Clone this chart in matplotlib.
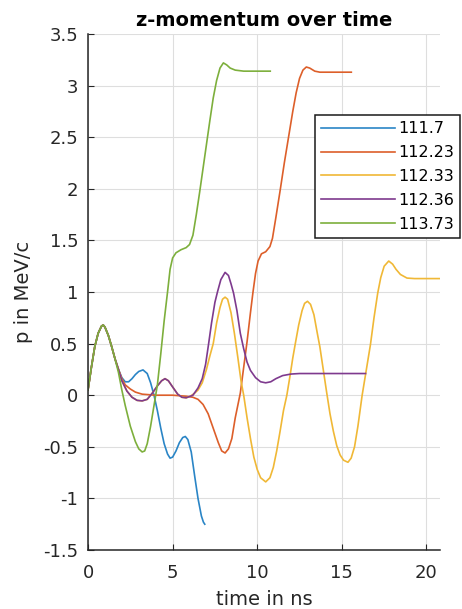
import numpy as np
import matplotlib
matplotlib.use("Agg")
import matplotlib.pyplot as plt

plt.rcParams['font.family'] = ['DejaVu Sans']

# time (ns) and z-momentum (MeV/c) per run
t_1117 = [0, 0.2, 0.4, 0.6, 0.8, 0.9, 1.0, 1.2, 1.4, 1.6, 1.8, 2.0, 2.2, 2.4, 2.6, 2.8, 3.0,
          3.25, 3.5, 3.7, 3.9, 4.1, 4.3, 4.5, 4.7, 4.85, 5.0, 5.2, 5.4, 5.6, 5.75, 5.9,
          6.1, 6.3, 6.5, 6.7, 6.82, 6.9]
p_1117 = [0.05, 0.27, 0.47, 0.6, 0.67, 0.68, 0.66, 0.58, 0.47, 0.35, 0.25, 0.17, 0.13, 0.13,
          0.16, 0.2, 0.23, 0.245, 0.21, 0.12, 0.0, -0.15, -0.32, -0.47, -0.57, -0.61, -0.6,
          -0.54, -0.46, -0.41, -0.4, -0.43, -0.55, -0.78, -1.0, -1.17, -1.23, -1.25]

t_11223 = [0, 0.2, 0.4, 0.6, 0.8, 0.9, 1.0, 1.2, 1.4, 1.6, 1.8, 2.0, 2.2, 2.5, 2.8, 3.2, 4.0,
           5.0, 5.8, 6.2, 6.5, 6.8, 7.1, 7.4, 7.7, 7.9, 8.1, 8.3, 8.5, 8.7, 8.85, 9.0, 9.2,
           9.4, 9.6, 9.75, 9.9, 10.05, 10.25, 10.5, 10.75, 10.9, 11.1, 11.35, 11.6, 11.85,
           12.1, 12.3, 12.5, 12.7, 12.9, 13.1, 13.4, 13.7, 15.56]
p_11223 = [0.05, 0.27, 0.47, 0.6, 0.67, 0.68, 0.66, 0.58, 0.47, 0.35, 0.25, 0.16, 0.1, 0.06,
           0.03, 0.01, 0.0, 0.0, -0.01, -0.02, -0.04, -0.09, -0.18, -0.32, -0.46, -0.54,
           -0.56, -0.52, -0.42, -0.22, -0.1, 0.02, 0.27, 0.52, 0.8, 1.0, 1.18, 1.3, 1.37,
           1.39, 1.44, 1.52, 1.72, 1.98, 2.25, 2.5, 2.75, 2.93, 3.07, 3.15, 3.18, 3.17,
           3.14, 3.13, 3.13]

t_11233 = [0, 0.2, 0.4, 0.6, 0.8, 0.9, 1.0, 1.2, 1.4, 1.6, 1.8, 2.0, 2.3, 2.6, 2.9, 3.2, 3.5,
           3.8, 4.1, 4.35, 4.55, 4.75, 5.0, 5.3, 5.55, 5.8, 6.05, 6.3, 6.5, 6.75, 7.0, 7.2,
           7.4, 7.6, 7.8, 7.95, 8.1, 8.25, 8.45, 8.65, 8.85, 9.05, 9.2, 9.4, 9.6, 9.8, 10.0,
           10.2, 10.5, 10.75, 10.95, 11.15, 11.35, 11.55, 11.75, 11.95, 12.1, 12.25, 12.45,
           12.65, 12.8, 12.97, 13.15, 13.35, 13.55, 13.7, 13.9, 14.1, 14.3, 14.5, 14.7, 14.9,
           15.1, 15.36, 15.55, 15.75, 15.95, 16.2, 16.45, 16.69, 16.9, 17.12, 17.3, 17.5,
           17.77, 18.0, 18.2, 18.46, 18.85, 19.3, 20.8]
p_11233 = [0.05, 0.27, 0.47, 0.6, 0.67, 0.68, 0.66, 0.58, 0.47, 0.35, 0.25, 0.14, 0.04, -0.02,
           -0.05, -0.055, -0.04, 0.02, 0.09, 0.14, 0.16, 0.14, 0.08, 0.01, -0.02, -0.025,
           -0.01, 0.02, 0.05, 0.12, 0.25, 0.38, 0.5, 0.7, 0.85, 0.93, 0.95, 0.93, 0.8, 0.6,
           0.37, 0.13, 0.0, -0.22, -0.42, -0.6, -0.72, -0.8, -0.84, -0.8, -0.7, -0.54, -0.35,
           -0.15, 0.0, 0.2, 0.36, 0.5, 0.68, 0.82, 0.89, 0.91, 0.88, 0.78, 0.6, 0.47, 0.25,
           0.03, -0.18, -0.35, -0.49, -0.58, -0.63, -0.65, -0.61, -0.5, -0.3, 0.0, 0.25, 0.49,
           0.75, 0.99, 1.14, 1.25, 1.3, 1.27, 1.22, 1.17, 1.135, 1.13, 1.13]

t_11236 = [0, 0.2, 0.4, 0.6, 0.8, 0.9, 1.0, 1.2, 1.4, 1.6, 1.8, 2.0, 2.3, 2.6, 2.9, 3.2, 3.5,
           3.8, 4.1, 4.35, 4.55, 4.75, 5.0, 5.3, 5.55, 5.8, 6.05, 6.2, 6.5, 6.75, 6.95, 7.12,
           7.3, 7.5, 7.65, 7.85, 8.1, 8.3, 8.45, 8.6, 8.8, 9.0, 9.2, 9.4, 9.6, 9.9, 10.2, 10.5,
           10.8, 11.1, 11.5, 12.0, 12.5, 16.4]
p_11236 = [0.05, 0.27, 0.47, 0.6, 0.67, 0.68, 0.66, 0.58, 0.47, 0.35, 0.25, 0.14, 0.04, -0.02,
           -0.05, -0.055, -0.04, 0.02, 0.09, 0.14, 0.16, 0.14, 0.08, 0.01, -0.02, -0.025,
           -0.01, 0.0, 0.07, 0.16, 0.3, 0.49, 0.7, 0.9, 1.0, 1.12, 1.19, 1.16, 1.08, 0.99,
           0.82, 0.6, 0.45, 0.32, 0.24, 0.17, 0.13, 0.12, 0.13, 0.16, 0.19, 0.205, 0.21, 0.21]

t_11373 = [0, 0.2, 0.4, 0.6, 0.8, 0.9, 1.0, 1.2, 1.4, 1.6, 1.8, 2.0, 2.2, 2.5, 2.8, 3.0, 3.2,
           3.35, 3.5, 3.7, 3.9, 4.1, 4.3, 4.5, 4.7, 4.85, 5.0, 5.2, 5.5, 5.8, 6.0, 6.2, 6.4,
           6.6, 6.8, 7.0, 7.2, 7.4, 7.6, 7.8, 8.0, 8.2, 8.4, 8.7, 9.2, 10.77]
p_11373 = [0.05, 0.27, 0.47, 0.6, 0.67, 0.68, 0.66, 0.58, 0.47, 0.35, 0.22, 0.05, -0.1, -0.3,
           -0.45, -0.52, -0.55, -0.54, -0.47, -0.3, -0.1, 0.1, 0.4, 0.72, 1.0, 1.22, 1.33,
           1.38, 1.41, 1.43, 1.46, 1.55, 1.75, 1.97, 2.2, 2.43, 2.66, 2.88, 3.05, 3.17, 3.22,
           3.2, 3.17, 3.15, 3.14, 3.14]

labels = ['111.7', '112.23', '112.33', '112.36', '113.73']
colors = ['#2a85c6', '#dd5f2a', '#f0b836', '#7e3a8e', '#7daf3c']
series = [(t_1117, p_1117), (t_11223, p_11223), (t_11233, p_11233),
          (t_11236, p_11236), (t_11373, p_11373)]

fig = plt.figure(figsize=(4.62, 6.09), dpi=100)
ax = fig.add_axes([88 / 462, 59 / 609, 352 / 462, 516 / 609])

for (t, p), lab, col in zip(series, labels, colors):
    ax.plot(t, p, color=col, lw=1.2, label=lab)

ax.set_xlim(0, 20.8)
ax.set_ylim(-1.5, 3.5)
ax.set_xticks([0, 5, 10, 15, 20])
ax.set_yticks(np.arange(-1.5, 3.51, 0.5))
ax.set_yticklabels(['-1.5', '-1', '-0.5', '0', '0.5', '1', '1.5', '2', '2.5', '3', '3.5'])
ax.grid(True, color='#dedede', lw=0.8)
ax.set_axisbelow(True)

for s in ['top', 'right']:
    ax.spines[s].set_visible(False)
for s in ['left', 'bottom']:
    ax.spines[s].set_color('#262626')
    ax.spines[s].set_linewidth(1.1)
ax.tick_params(direction='in', length=4, width=0.8, colors='#262626', labelsize=13)
ax.tick_params(axis='x', pad=10)
ax.tick_params(axis='y', pad=7)

ax.set_title('z-momentum over time', fontsize=14, fontweight='bold', pad=6)
ax.set_xlabel('time in ns', fontsize=14, color='#262626', labelpad=6)
ax.set_ylabel('p in MeV/c', fontsize=14, color='#262626', labelpad=7)

leg = ax.legend(loc='upper right', bbox_to_anchor=(1.057, 0.843), borderaxespad=0,
                fontsize=11.5, handlelength=4.6, handletextpad=0.2, labelspacing=0.55,
                fancybox=False, edgecolor='#1a1a1a', framealpha=1, borderpad=0.4)
leg.get_frame().set_linewidth(1.1)

fig.savefig('out.png', dpi=100)
